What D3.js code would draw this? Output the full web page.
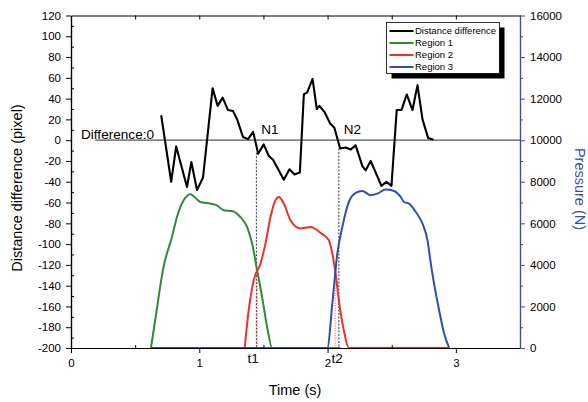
<!DOCTYPE html>
<html>
<head>
<meta charset="utf-8">
<script src="https://cdn.jsdelivr.net/npm/d3@7"></script>
<style>
  body { margin: 0; background: #fff; }
  text { font-family: "Liberation Sans", Arial, sans-serif; }
</style>
</head>
<body>
<script>
// distance difference (pixel) vs time (s)
const diffTime = [0.703,0.781,0.820,0.904,0.938,0.982,1.029,1.104,1.143,1.182,1.224,1.263,1.295,1.341,1.380,1.420,1.459,1.502,1.541,1.576,1.659,1.703,1.742,1.784,1.815,1.841,1.883,1.916,1.936,1.977,2.020,2.053,2.098,2.141,2.180,2.219,2.271,2.297,2.336,2.420,2.459,2.498,2.539,2.576,2.617,2.662,2.701,2.740,2.784,2.826];
const diffVal = [24,-40,-6,-45,-21,-48,-36,50,33,41,29,28,20,3,1,8,-13,-4,-15,-19,-38,-28,-33,-31,44,46,59,30,33,27,16,12,-8,-7,-9,-5,-25,-29,-20,-44,-40,-44,29,29,44,29,53,20,2,0.5];

// pressure (N) per region
const r1Time = [0.623,0.656,0.721,0.787,0.826,0.878,0.930,1.008,1.086,1.138,1.190,1.255,1.320,1.373,1.412,1.451,1.490,1.529,1.568,2.10];
const r1Pres = [0,1325,3894,5340,6304,7108,7398,7027,6949,6867,6627,6593,6304,5822,5022,3735,2448,1002,0,0];
const r2Time = [1.354,1.385,1.424,1.477,1.516,1.555,1.594,1.620,1.659,1.711,1.789,1.867,1.945,2.010,2.037,2.063,2.088,2.127,2.166,2.95];
const r2Pres = [0,1807,3253,4058,5022,6304,7108,7267,6949,6145,5745,5822,5542,5181,4540,3576,2289,843,0,0];
const r3Time = [0.63,1.998,2.037,2.076,2.115,2.166,2.219,2.271,2.336,2.388,2.453,2.518,2.570,2.596,2.635,2.688,2.740,2.779,2.805,2.830,2.870,2.909,2.948];
const r3Pres = [0,0,2130,4540,5822,7027,7460,7557,7349,7431,7624,7557,7267,7027,6949,6545,5986,5181,4058,3094,1807,684,0];

const leftTicks = d3.range(-200, 121, 20);
const leftMinor = d3.range(-190, 120, 20);
const rightTicks = d3.range(0, 16001, 2000);
const rightMinor = d3.range(1000, 16000, 2000);
const timeTicks = [0, 1, 2, 3];
const timeMinor = [0.5, 1.5, 2.5, 3.5];
const topTicks = d3.range(0.5, 3.51, 0.5);

// marker events: N1/N2 on the difference curve, t1/t2 crossings
const markTime = [1.445, 2.088];
const markDiff = [-12, -8];
const markName = ["N1", "N2"];
const crossTime = [1.451, 2.059];
const crossPres = [3250, 3740];
const crossName = ["t1", "t2"];

const legendNames = ["Distance difference", "Region 1", "Region 2", "Region 3"];
const colors = ["#000000", "#2f8a34", "#e8322a", "#2f4fae"];

const W = 588, H = 402;
const x = d3.scaleLinear().domain([0, 3.5]).range([71, 520]);
const yL = d3.scaleLinear().domain([-200, 120]).range([348, 15.5]);
const yR = d3.scaleLinear().domain([0, 16000]).range([348, 15.5]);

const svg = d3.select("body").append("svg")
  .attr("width", W).attr("height", H);

// zero reference line
svg.append("line")
  .attr("x1", x(0.19)).attr("x2", x(3.5))
  .attr("y1", yL(0)).attr("y2", yL(0))
  .attr("stroke", "#555").attr("stroke-width", 1.3);
svg.append("text").attr("x", 81).attr("y", yL(0) - 1)
  .attr("font-size", 13.6).text("Difference:0");

// vertical markers
markTime.forEach(function(t, i) {
  svg.append("line")
    .attr("x1", x(t)).attr("x2", x(t))
    .attr("y1", yL(markDiff[i])).attr("y2", yL(-200))
    .attr("stroke", "#000").attr("stroke-width", 0.8)
    .attr("stroke-dasharray", "2,1.5");
  svg.append("text").attr("x", x(t) + 5).attr("y", 134)
    .attr("font-size", 13.5).text(markName[i]);
});
crossTime.forEach(function(t, i) {
  svg.append("line")
    .attr("x1", x(t)).attr("x2", x(t))
    .attr("y1", yR(crossPres[i])).attr("y2", yR(0))
    .attr("stroke", "#f04040").attr("stroke-width", 1)
    .attr("stroke-dasharray", "1,1.5");
  svg.append("text").attr("x", x(t) + (i == 0 ? -4 : 2)).attr("y", 363)
    .attr("text-anchor", "middle")
    .attr("font-size", 13.5).text(crossName[i]);
});

// pressure curves
const presLine = d3.line()
  .x(function(d) { return x(d[0]); })
  .y(function(d) { return yR(d[1]); })
  .curve(d3.curveMonotoneX);

[[r1Time, r1Pres], [r2Time, r2Pres], [r3Time, r3Pres]].forEach(function(s, i) {
  svg.append("path")
    .datum(d3.zip(s[0], s[1]))
    .attr("fill", "none")
    .attr("stroke", colors[i + 1])
    .attr("stroke-width", 2)
    .attr("d", presLine);
});

// difference curve
const diffLine = d3.line()
  .x(function(d) { return x(d[0]); })
  .y(function(d) { return yL(d[1]); });
svg.append("path")
  .datum(d3.zip(diffTime, diffVal))
  .attr("fill", "none").attr("stroke", "#000")
  .attr("stroke-width", 2.1).attr("stroke-linejoin", "round")
  .attr("d", diffLine);

// axes
function styleAxis(g, col) {
  g.select(".domain").attr("stroke", col).attr("stroke-width", 1.2);
  g.selectAll(".tick line").attr("stroke", col).attr("stroke-width", 1);
  g.selectAll("text").attr("font-size", 11.5).attr("fill", "#000")
    .attr("font-family", "'Liberation Sans', Arial, sans-serif");
}

svg.append("g").attr("transform", "translate(" + x(0) + ",0)")
  .call(d3.axisLeft(yL).tickValues(leftTicks).tickSize(5).tickPadding(5)
    .tickSizeOuter(0).tickFormat(function(d) { return String(d); }))
  .call(styleAxis, "#000");
svg.append("g").attr("transform", "translate(" + x(0) + ",0)")
  .call(d3.axisLeft(yL).tickValues(leftMinor).tickSize(-3).tickSizeOuter(0).tickFormat(""))
  .call(styleAxis, "#000");

svg.append("g").attr("transform", "translate(0," + yL(-200) + ")")
  .call(d3.axisBottom(x).tickValues(timeTicks).tickSize(5).tickPadding(6)
    .tickSizeOuter(0).tickFormat(d3.format("d")))
  .call(styleAxis, "#000");
svg.append("g").attr("transform", "translate(0," + yL(-200) + ")")
  .call(d3.axisBottom(x).tickValues(timeMinor).tickSize(-3).tickSizeOuter(0).tickFormat(""))
  .call(styleAxis, "#000");

svg.append("g").attr("transform", "translate(0," + yL(120) + ")")
  .call(d3.axisTop(x).tickValues(topTicks).tickSize(-4).tickSizeOuter(0).tickFormat(""))
  .call(styleAxis, "#000");

svg.append("g").attr("transform", "translate(" + x(3.5) + ",0)")
  .call(d3.axisRight(yR).tickValues(rightTicks).tickSize(5).tickPadding(5)
    .tickSizeOuter(0).tickFormat(d3.format("d")))
  .call(styleAxis, colors[3]);
svg.append("g").attr("transform", "translate(" + x(3.5) + ",0)")
  .call(d3.axisRight(yR).tickValues(rightMinor).tickSize(3).tickSizeOuter(0).tickFormat(""))
  .call(styleAxis, colors[3]);

// axis titles
svg.append("text")
  .attr("transform", "translate(22,188) rotate(-90)")
  .attr("text-anchor", "middle").attr("font-size", 14.5)
  .text("Distance difference (pixel)");
svg.append("text")
  .attr("x", 295).attr("y", 395)
  .attr("text-anchor", "middle").attr("font-size", 14.5)
  .text("Time (s)");
svg.append("text")
  .attr("transform", "translate(575,189) rotate(90)")
  .attr("text-anchor", "middle").attr("font-size", 14.5)
  .attr("fill", colors[3])
  .text("Pressure (N)");

// legend
const lg = svg.append("g").attr("transform", "translate(386.5,22.5)");
lg.append("rect").attr("x", 5).attr("y", 5).attr("width", 113).attr("height", 51)
  .attr("fill", "#000");
lg.append("rect").attr("width", 113).attr("height", 51)
  .attr("fill", "#fff").attr("stroke", "#000").attr("stroke-width", 0.8);
legendNames.forEach(function(name, i) {
  const yy = 8.5 + i * 12;
  lg.append("line").attr("x1", 3).attr("x2", 27).attr("y1", yy).attr("y2", yy)
    .attr("stroke", colors[i]).attr("stroke-width", 2);
  lg.append("text").attr("x", 28.5).attr("y", yy + 3.4)
    .attr("font-size", 9.5).text(name);
});
</script>
</body>
</html>
